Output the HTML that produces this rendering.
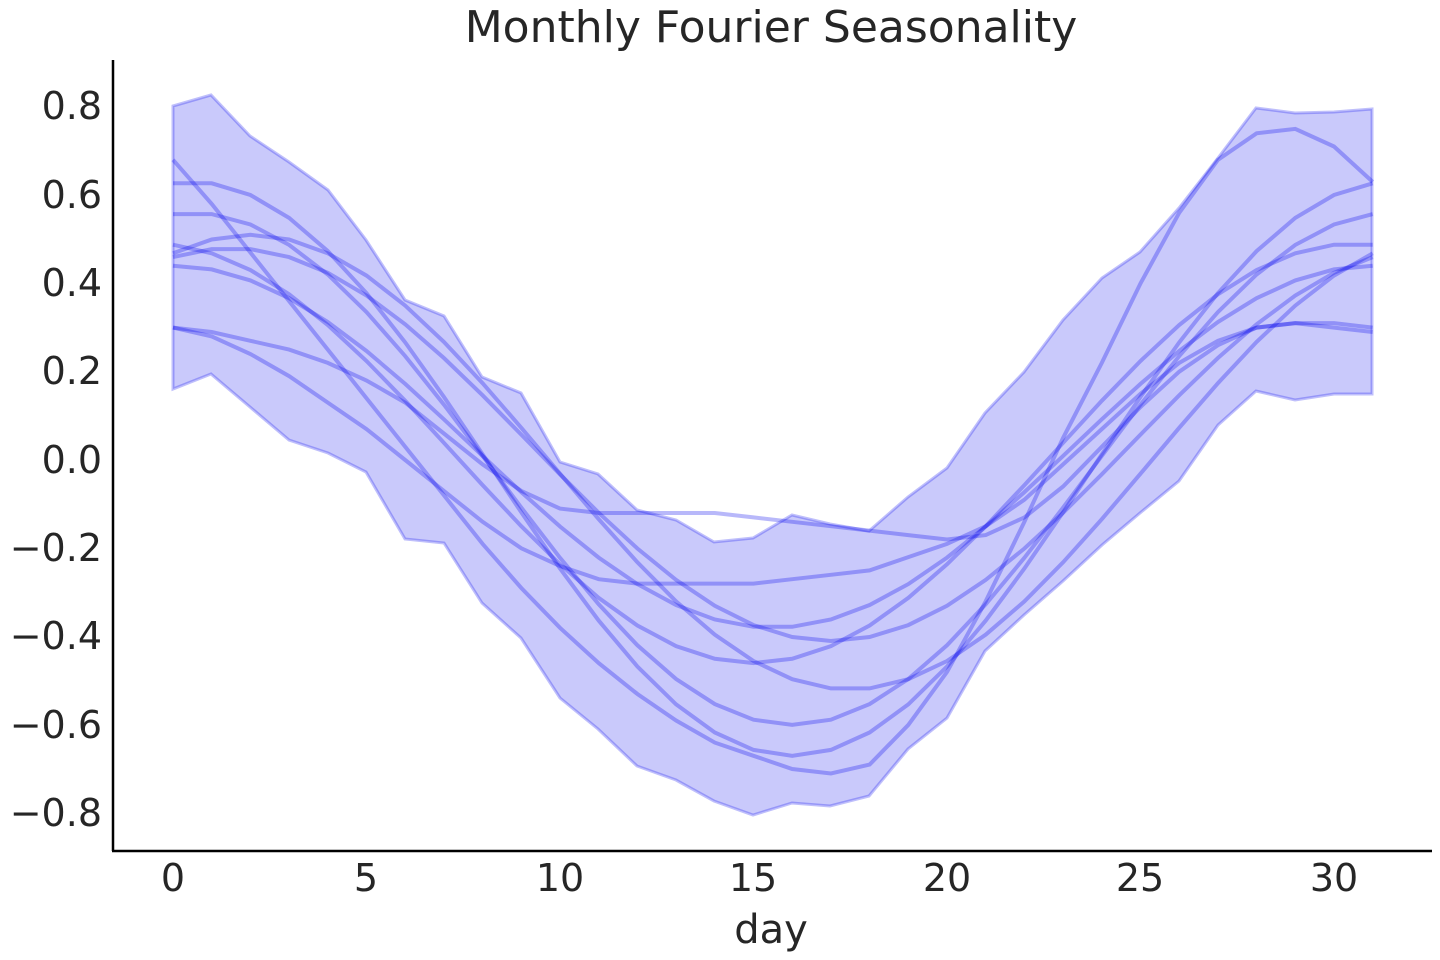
<!DOCTYPE html>
<html><head><meta charset="utf-8"><style>
html,body{margin:0;padding:0;background:#fff;}
svg{display:block;font-family:"DejaVu Sans","Liberation Sans",sans-serif;}
</style></head><body>
<svg id="s" width="1440" height="960" viewBox="0 0 1440 960" xmlns="http://www.w3.org/2000/svg">
<polygon fill="#0000ee" fill-opacity="0.21" stroke="#0000ee" stroke-opacity="0.25" stroke-width="3" points="173,106 211,95 250,136 289,162 328,190 366,240 405,300 444,316 482,377 521,393 560,462 598,474 637,510 676,520 714,542 753,538 792,515 830,524 869,531 908,497 947,468 985,413 1024,372 1063,320 1102,278 1140,252 1179,208 1218,158 1256,108 1295,113 1334,112 1372,109 1372,394 1334,394 1295,400 1256,391 1218,425 1179,481 1140,513 1102,545 1063,581 1024,615 985,651 947,718 908,749 869,796 830,806 792,803 753,815 714,801 676,780 637,766 598,729 560,698 521,638 482,603 444,543 405,539 366,472 328,453 289,440 250,407 211,374 173,389"/>
<g id="lines" fill="none" stroke="#0000ee" stroke-opacity="0.28" stroke-width="4"></g>
<line x1="113" y1="60" x2="113" y2="851" stroke="#000" stroke-width="2.5"/>
<line x1="112" y1="851" x2="1432" y2="851" stroke="#000" stroke-width="2.5"/>
<g font-size="38" fill="#262626" text-anchor="end">
<text x="102" y="119">0.8</text>
<text x="102" y="208">0.6</text>
<text x="102" y="296">0.4</text>
<text x="102" y="384">0.2</text>
<text x="102" y="473">0.0</text>
<text x="102" y="561">−0.2</text>
<text x="102" y="649">−0.4</text>
<text x="102" y="738">−0.6</text>
<text x="102" y="826">−0.8</text>
</g>
<g font-size="38" fill="#262626" text-anchor="middle">
<text x="173" y="891">0</text>
<text x="366" y="891">5</text>
<text x="560" y="891">10</text>
<text x="753" y="891">15</text>
<text x="947" y="891">20</text>
<text x="1140" y="891">25</text>
<text x="1334" y="891">30</text>
<text x="771" y="943" font-size="40">day</text>
<text x="771" y="42" font-size="44">Monthly Fourier Seasonality</text>
</g>
</svg>
<script>
var X=function(d){return 173+d*38.7;},Y=function(v){return 460-v*441.5;};
var L=[[0.63,-0.67,16],[0.56,-0.60,16],[0.51,-0.52,17.5],[0.49,-0.46,15],[0.48,-0.41,17],[0.44,-0.38,15.5]];
var E=[
[0.68,0.58,0.47,0.36,0.25,0.14,0.03,-0.08,-0.19,-0.29,-0.38,-0.46,-0.53,-0.59,-0.64,-0.67,-0.70,-0.71,-0.69,-0.60,-0.48,-0.32,-0.14,0.05,0.22,0.40,0.56,0.68,0.74,0.75,0.71,0.63],
[0.30,0.29,0.27,0.25,0.22,0.18,0.13,0.06,-0.01,-0.07,-0.11,-0.12,-0.12,-0.12,-0.12,-0.13,-0.14,-0.15,-0.16,-0.17,-0.18,-0.17,-0.13,-0.06,0.03,0.12,0.20,0.26,0.30,0.31,0.31,0.30],
[0.30,0.28,0.24,0.19,0.13,0.07,0.00,-0.07,-0.14,-0.20,-0.24,-0.27,-0.28,-0.28,-0.28,-0.28,-0.27,-0.26,-0.25,-0.22,-0.19,-0.15,-0.09,-0.01,0.07,0.15,0.22,0.27,0.30,0.31,0.30,0.29]];
var g=document.getElementById('lines'),h='';
L.forEach(function(l){var c=(l[0]+l[1])/2,A=(l[0]-l[1])/2,p=[];
for(var d=0;d<=31;d++){var v=c-A*Math.cos(2*Math.PI*(d-l[2])/31);p.push(X(d).toFixed(1)+','+Y(v).toFixed(1));}
h+='<polyline points="'+p.join(' ')+'"/>';});
E.forEach(function(a){var p=a.map(function(v,d){return X(d).toFixed(1)+','+Y(v).toFixed(1);});h+='<polyline points="'+p.join(' ')+'"/>';});
g.innerHTML=h;
</script>
</body></html>
